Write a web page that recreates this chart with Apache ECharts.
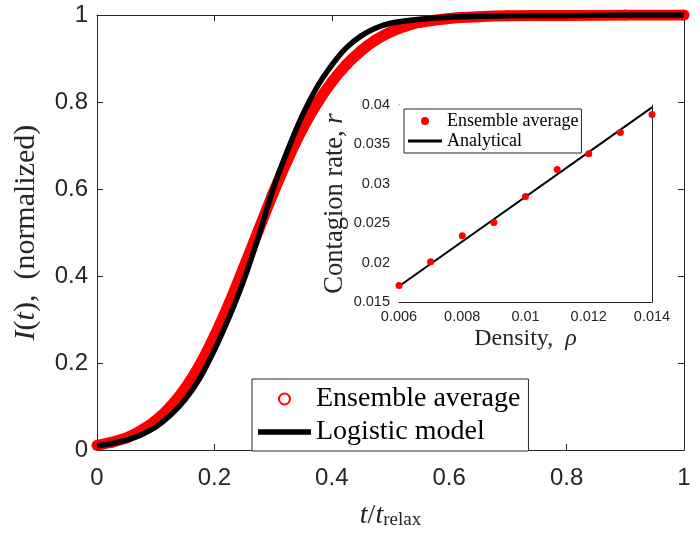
<!DOCTYPE html>
<html><head><meta charset="utf-8">
<script src="https://cdn.jsdelivr.net/npm/echarts@6/dist/echarts.min.js"></script>
<style>html,body{margin:0;padding:0;background:#fff}#c{width:700px;height:535px}</style>
</head><body><div id="c"></div>
<script>
// ---- main panel data ----
const tEnsemble = [0,0.025,0.05,0.075,0.1,0.125,0.15,0.175,0.2,0.225,0.25,0.275,0.3,0.325,0.35,0.375,0.4,0.425,0.45,0.475,0.5,0.525,0.55,0.6,0.65,0.7,0.8,0.9,1.0];
const ensembleI = [0.011,0.018,0.028,0.045,0.068,0.100,0.142,0.196,0.262,0.337,0.420,0.505,0.590,0.668,0.738,0.797,0.846,0.886,0.918,0.943,0.961,0.974,0.983,0.992,0.996,0.998,0.999,1.0,1.0];
const tLogistic = [0,0.025,0.05,0.075,0.1,0.125,0.15,0.175,0.2,0.225,0.25,0.275,0.3,0.325,0.35,0.375,0.4,0.425,0.45,0.475,0.5,0.55,0.6,0.7,0.8,0.9,1.0];
const logisticI = [0.010,0.015,0.023,0.035,0.053,0.080,0.116,0.165,0.230,0.305,0.390,0.490,0.600,0.690,0.770,0.835,0.885,0.925,0.952,0.970,0.981,0.990,0.995,0.998,0.999,1.0,1.0];
// ---- inset data ----
const density = [0.006,0.007,0.008,0.009,0.010,0.011,0.012,0.013,0.014];
const contagionRate = [0.0171,0.0201,0.0234,0.0251,0.0284,0.0318,0.0338,0.0365,0.0388];
const analyticalDensity = [0.006,0.014];
const analyticalRate = [0.0170,0.0397];
// ---- ticks ----
const mainXTicks = [0,0.2,0.4,0.6,0.8,1];
const mainYTicks = [0,0.2,0.4,0.6,0.8,1];
const insetXTicks = [0.006,0.008,0.010,0.012,0.014];
const insetYTicks = [0.015,0.020,0.025,0.030,0.035,0.040];

const AX = '#262626';
const SANS = 'Liberation Sans';
const SERIF = 'Liberation Serif';
const zip = (a,b) => a.map((v,i)=>[v,b[i]]);
const step = a => +(a[1]-a[0]).toFixed(6);

function axisBase(ticks, gridIndex, position, showLabel, fs, margin, tickLen){
  return {
    type:'value', gridIndex, position,
    min: ticks[0], max: ticks[ticks.length-1], interval: step(ticks),
    axisLine:{show:true, onZero:false, lineStyle:{color:AX, width:1}},
    axisTick:{show:true, inside:true, length:tickLen, lineStyle:{color:AX, width:1}},
    axisLabel:{show:showLabel, color:AX, fontFamily:SANS, fontSize:fs, margin},
    splitLine:{show:false}
  };
}

const richSerif = (fs) => ({
  it:{fontFamily:SERIF, fontStyle:'italic', fontSize:fs, color:AX},
  rm:{fontFamily:SERIF, fontSize:fs, color:AX}
});

const xMain = axisBase(mainXTicks,0,'bottom',true,24,16,6);
xMain.name = '{it|t}{rm|/}{it|t}{sub|relax}';
xMain.nameLocation = 'middle';
xMain.nameGap = 36;
xMain.nameTextStyle = {fontFamily:SERIF, fontSize:28, color:AX, rich:{
  it:{fontFamily:SERIF, fontStyle:'italic', fontSize:28, lineHeight:28, verticalAlign:'top', color:AX},
  rm:{fontFamily:SERIF, fontSize:28, lineHeight:28, verticalAlign:'top', color:AX},
  sub:{fontFamily:SERIF, fontSize:19, lineHeight:19, padding:[16,0,0,0], verticalAlign:'bottom', color:AX}
}};
const xMainTop = axisBase(mainXTicks,0,'top',false,24,16,6);

const yMain = axisBase(mainYTicks,0,'left',true,24,9,6);
yMain.name = '{it|I}{rm|(}{it|t}{rm|),  (normalized)}';
yMain.nameLocation = 'middle';
yMain.nameRotate = 90;
yMain.nameGap = 56;
yMain.nameTextStyle = {fontFamily:SERIF, fontSize:30, color:AX, rich:richSerif(30)};
const yMainRight = axisBase(mainYTicks,0,'right',false,24,9,6);

const xInset = axisBase(insetXTicks,1,'bottom',true,14.5,7,5);
xInset.name = '{rm|Density,  }{it|ρ}';
xInset.nameLocation = 'middle';
xInset.nameGap = 25;
xInset.nameTextStyle = {fontFamily:SERIF, fontSize:24, color:AX, rich:richSerif(24)};
const xInsetTop = axisBase(insetXTicks,1,'top',false,14.5,7,5);

const yInset = axisBase(insetYTicks,1,'left',true,14.5,9,5);
yInset.name = '{rm|Contagion rate, }{it|r}';
yInset.nameLocation = 'middle';
yInset.nameRotate = 90;
yInset.nameGap = 50;
yInset.nameTextStyle = {fontFamily:SERIF, fontSize:26.5, color:AX, rich:richSerif(26.5)};
const yInsetRight = axisBase(insetYTicks,1,'right',false,14.5,9,5);

const option = {
  animation:false,
  backgroundColor:'#fff',
  grid:[
    {left:97, right:16, top:15, bottom:75},
    {left:399, right:48, top:105, bottom:233, show:true, backgroundColor:'#fff', borderWidth:0, z:5}
  ],
  xAxis:[xMain, xMainTop, xInset, xInsetTop],
  yAxis:[yMain, yMainRight, yInset, yInsetRight],
  legend:[
    {
      orient:'vertical', left:252, top:379, padding:[6,8,5,6], itemGap:5,
      itemWidth:53, itemHeight:11,
      backgroundColor:'#fff', borderColor:AX, borderWidth:1, borderRadius:0,
      textStyle:{fontFamily:SERIF, fontSize:28, lineHeight:28, color:'#000'},
      data:[{name:'Ensemble average', icon:'emptyCircle'},
            {name:'Logistic model', icon:'path://M0,0L106,0L106,11L0,11Z'}]
    },
    {
      orient:'vertical', left:404, top:109, padding:[3,3,3,4], itemGap:2,
      itemWidth:34, itemHeight:8,
      backgroundColor:'#fff', borderColor:AX, borderWidth:1, borderRadius:0,
      textStyle:{fontFamily:SERIF, fontSize:18, lineHeight:18, color:'#000'},
      data:[{name:'Ensemble average\u200b', icon:'circle'},
            {name:'Analytical', icon:'path://M0,0L102,0L102,9L0,9Z'}],
      z:10
    }
  ],
  series:[
    {
      name:'Ensemble average', type:'line', xAxisIndex:0, yAxisIndex:0,
      data: zip(tEnsemble, ensembleI), smooth:0.3,
      symbol:'circle', symbolSize:11, showSymbol:true,
      itemStyle:{color:'#ff0000'}, lineStyle:{color:'#ff0000', width:11}, z:2
    },
    {
      name:'Logistic model', type:'line', xAxisIndex:0, yAxisIndex:0,
      data: zip(tLogistic, logisticI), smooth:0.3,
      symbol:'none', itemStyle:{color:'#000'}, lineStyle:{color:'#000', width:5.5}, z:3
    },
    {
      name:'Ensemble average\u200b', type:'scatter', xAxisIndex:2, yAxisIndex:2,
      data: zip(density, contagionRate), symbol:'circle', symbolSize:7,
      itemStyle:{color:'#ff0000', opacity:1}, z:7
    },
    {
      name:'Analytical', type:'line', xAxisIndex:2, yAxisIndex:2,
      data: zip(analyticalDensity, analyticalRate), symbol:'none',
      itemStyle:{color:'#000'}, lineStyle:{color:'#000', width:2}, z:6
    }
  ]
};
const chart = echarts.init(document.getElementById('c'), null, {renderer:'canvas'});
chart.setOption(option);
</script></body></html>
